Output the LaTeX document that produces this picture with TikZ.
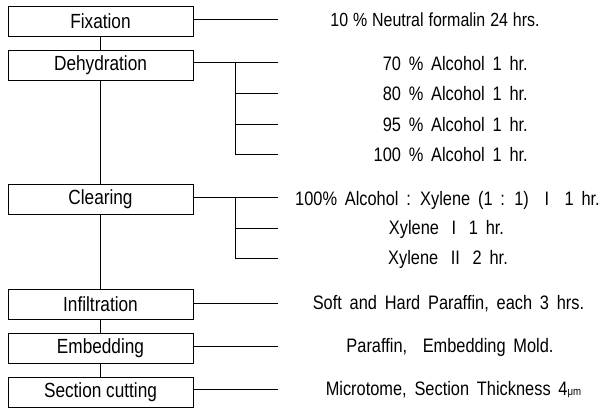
\documentclass[tikz,border=0pt]{standalone}
\usepackage{fontspec}
\setmainfont{Liberation Sans}[FakeStretch=0.84]
\newcommand\myitemfont{\fontsize{19.5}{21}\selectfont\spaceskip=0.4em plus 0.1em\relax}
\newcommand\mytightfont{\fontsize{19}{21}\selectfont\spaceskip=0.26em plus 0.1em\relax}
\begin{document}
\begin{tikzpicture}[x=1pt,y=-1pt,
  stage/.style={draw,line width=1pt,minimum width=185pt,minimum height=30pt,inner sep=0pt,font=\fontsize{20.5}{22}\selectfont},
  item/.style={inner sep=0pt,anchor=center,font=\myitemfont},
  conn/.style={line width=0.9pt}]
\useasboundingbox (0,0) rectangle (603,408);
% stages
\node[stage] (fix) at (100.5,21) {Fixation};
\node[stage] (deh) at (100.5,65) {Dehydration};
\node[stage] (cle) at (100.5,199.5) {Clearing};
\node[stage] (inf) at (100.5,304.5) {Infiltration};
\node[stage] (emb) at (100.5,348.5) {Embedding};
\node[stage] (sec) at (100.5,392) {Section cutting};
% main spine
\draw[conn] (fix) -- (deh);
\draw[conn] (deh) -- (cle);
\draw[conn] (cle) -- (inf);
\draw[conn] (inf) -- (emb);
\draw[conn] (emb) -- (sec);
% end coordinates
\coordinate (e1) at (278,19);
\coordinate (e2) at (278,62);
\coordinate (e3) at (278,93);
\coordinate (e4) at (278,124);
\coordinate (e5) at (278,154);
\coordinate (e6) at (278,197);
\coordinate (e7) at (278,228);
\coordinate (e8) at (278,258);
\coordinate (e9) at (278,303);
\coordinate (e10) at (278,346);
\coordinate (e11) at (278,389);
\coordinate (b1) at (235,62);
\coordinate (b2) at (235,197);
% connectors
\draw[conn] (fix.east |- e1) -- (e1);
\draw[conn] (deh.east |- e2) -- (e2);
\draw[conn] (b1) |- (e5);
\draw[conn] (b1 |- e3) -- (e3);
\draw[conn] (b1 |- e4) -- (e4);
\draw[conn] (cle.east |- e6) -- (e6);
\draw[conn] (b2) |- (e8);
\draw[conn] (b2 |- e7) -- (e7);
\draw[conn] (inf.east |- e9) -- (e9);
\draw[conn] (emb.east |- e10) -- (e10);
\draw[conn] (sec.east |- e11) -- (e11);
% texts
\node[item,font=\mytightfont] (t1) at (435,20) {10 \% Neutral formalin 24 hrs.};
\node[item,anchor=east] (t2) at (528,64) {70 \% Alcohol 1 hr.};
\node[item,anchor=east] (t3) at (528,94) {80 \% Alcohol 1 hr.};
\node[item,anchor=east] (t4) at (528,125) {95 \% Alcohol 1 hr.};
\node[item,anchor=east] (t5) at (528,155) {100 \% Alcohol 1 hr.};
\node[item] (t6) at (447.5,200) {100\% Alcohol : Xylene (1 : 1) \ I \ 1 hr.};
\node[item] (t7) at (446.5,229) {Xylene\hspace{0.65em}I\hspace{0.65em}1 hr.};
\node[item] (t8) at (448,259) {Xylene\hspace{0.65em}II\hspace{0.65em}2 hr.};
\node[item] (t9) at (448.5,304) {Soft and Hard Paraffin, each 3 hrs.};
\node[item] (t10) at (450,347) {Paraffin, \ Embedding Mold.};
\node[item] (t11) at (453.5,390) {Microtome, Section Thickness 4{\fontsize{11.5}{11.5}\selectfont μm}};
\end{tikzpicture}
\end{document}
